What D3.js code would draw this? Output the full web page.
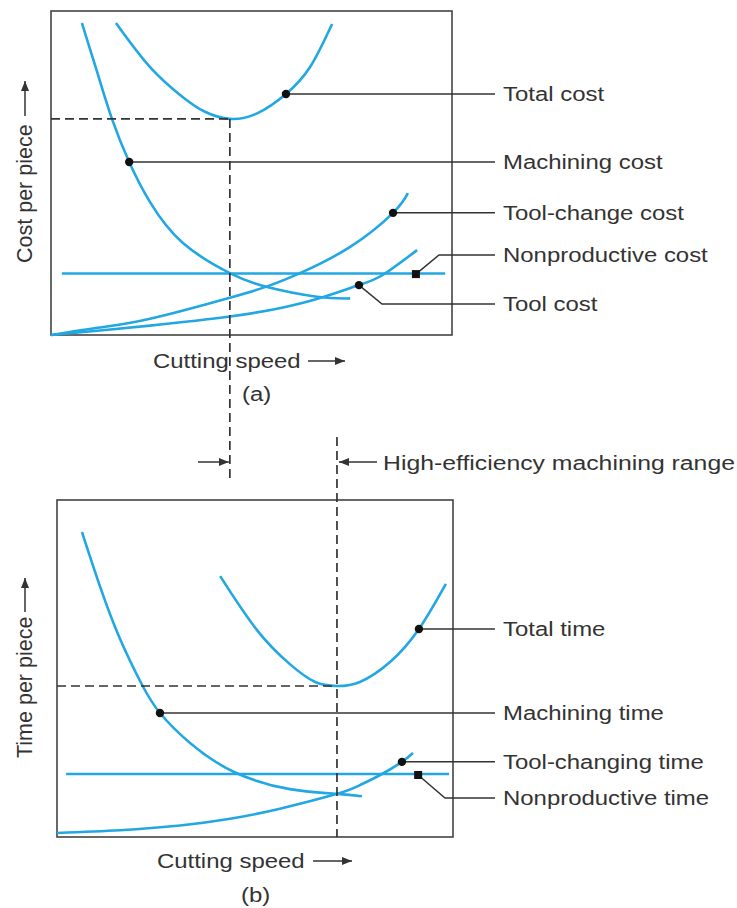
<!DOCTYPE html>
<html>
<head>
<meta charset="utf-8">
<script src="https://cdn.jsdelivr.net/npm/d3@7"></script>
<style>
  body { margin: 0; background: #fff; }
  text { font-family: "Liberation Sans", Arial, Helvetica, sans-serif; fill: #333; }
</style>
</head>
<body>
<div id="viz"></div>
<script>
// values: [cutting speed, cost or time], both 0-100

// (a) cost per piece
var machiningCost   = [[7.7,96.3],[11.5,81.2],[15.2,66.7],[19.5,53.4],[24.7,41.0],[32.9,28.4],[44.6,19.1],[53.9,14.8],[66.3,11.8],[74.6,11.3]];
var totalCost       = [[16.2,96.3],[24.7,82.7],[32.9,73.4],[38.4,68.9],[44.6,66.7],[51.4,68.4],[58.6,74.4],[64.6,82.7],[70.1,96.0]];
var toolChangeCost  = [[0,0],[12.2,2.3],[24.7,5.0],[44.6,11.5],[53.9,15.0],[62.1,19.1],[74.6,27.2],[85.3,37.7],[89.0,43.8]];
var toolCost        = [[0,0],[12.2,1.4],[24.7,2.9],[44.6,5.7],[57.9,8.5],[67.1,11.4],[76.8,15.4],[82.8,18.6],[91.3,26.2]];
var nonprodCost     = [[2.7,19.0],[98.3,19.0]];
var costLabels      = ['Total cost', 'Machining cost', 'Tool-change cost', 'Nonproductive cost', 'Tool cost'];
var costMarkers     = [[58.6,74.4],[19.5,53.4],[85.3,37.7],[91.0,18.8],[76.8,15.4]];
var minCostPoint    = [44.6, 66.7];

// (b) time per piece
var machiningTime   = [[6.3,90.5],[10.9,74.2],[15.9,58.8],[21.5,45.1],[26.0,36.8],[33.6,27.9],[44.7,19.3],[58.8,14.2],[70.7,12.8],[77.0,12.1]];
var totalTime       = [[41.2,77.4],[50.5,61.4],[58.8,51.3],[65.2,46.0],[70.7,44.8],[76.5,46.0],[84.1,51.9],[91.4,61.7],[98.2,75.1]];
var toolChangeTime  = [[0,1.2],[15.9,2.0],[31.1,3.4],[43.7,5.4],[56.3,8.4],[70.7,12.8],[76.5,15.4],[81.6,18.4],[87.1,22.3],[89.9,24.9]];
var nonprodTime     = [[2.3,18.7],[99.0,18.7]];
var timeLabels      = ['Total time', 'Machining time', 'Tool-changing time', 'Nonproductive time'];
var timeMarkers     = [[91.4,61.7],[26.0,36.8],[87.1,22.3],[91.2,18.4]];
var minTimePoint    = [70.7, 44.8];

var blue = '#22a7e3';
var ink = '#333';
var labelX = 503, leaderEnd = 495;

var svg = d3.select('#viz').append('svg')
  .attr('width', 737)
  .attr('height', 908);

// arrow head marker
var defs = svg.append('defs');
defs.append('marker')
  .attr('id', 'head')
  .attr('viewBox', '0 0 10 8')
  .attr('refX', 10).attr('refY', 4)
  .attr('markerWidth', 10).attr('markerHeight', 8)
  .attr('markerUnits', 'userSpaceOnUse')
  .attr('orient', 'auto')
  .append('path').attr('d', 'M0,0L10,4L0,8Z').attr('fill', ink);

function addText(str, x, y, sx) {
  return svg.append('text')
    .attr('transform', 'translate(' + x + ',' + y + ') scale(' + (sx || 1.14) + ',1)')
    .attr('font-size', 21)
    .text(str);
}

function arrow(x1, y1, x2, y2) {
  svg.append('line')
    .attr('x1', x1).attr('y1', y1).attr('x2', x2).attr('y2', y2)
    .attr('stroke', ink).attr('stroke-width', 1.5)
    .attr('marker-end', 'url(#head)');
}

function dashed(x1, y1, x2, y2) {
  svg.append('line')
    .attr('x1', x1).attr('y1', y1).attr('x2', x2).attr('y2', y2)
    .attr('stroke', '#333').attr('stroke-width', 1.7).attr('stroke-dasharray', '9,5');
}

function drawPanel(x, y, curves, markers, labels, elbows, minPt, yLabel) {
  var g = svg.append('g');
  var line = d3.line()
    .x(function(d) { return x(d[0]); })
    .y(function(d) { return y(d[1]); })
    .curve(d3.curveNatural);

  // frame
  g.append('rect')
    .attr('x', x(0)).attr('y', y(100))
    .attr('width', x(100) - x(0)).attr('height', y(0) - y(100))
    .attr('fill', 'none').attr('stroke', '#444').attr('stroke-width', 1.6);

  // leader lines and labels
  markers.forEach(function(m, i) {
    var mx = x(m[0]), my = y(m[1]);
    var e = elbows[i];
    var pts = e ? [[mx, my], [e[0], e[1]], [leaderEnd, e[1]]] : [[mx, my], [leaderEnd, my]];
    g.append('path')
      .attr('d', d3.line()(pts))
      .attr('fill', 'none').attr('stroke', ink).attr('stroke-width', 1.5);
    var ty = e ? e[1] : my;
    addText(labels[i], labelX, ty + 7);
  });

  // dashed optimum line (horizontal part)
  dashed(x(0), y(minPt[1]), x(minPt[0]), y(minPt[1]));

  // curves
  g.selectAll('.curve')
    .data(curves)
    .enter()
    .append('path')
    .attr('class', 'curve')
    .attr('d', line)
    .attr('fill', 'none')
    .attr('stroke', blue)
    .attr('stroke-width', 2.6);

  // markers: circles, except nonproductive square
  markers.forEach(function(m, i) {
    var mx = x(m[0]), my = y(m[1]);
    if (labels[i].indexOf('Nonproductive') === 0) {
      g.append('rect').attr('x', mx - 4).attr('y', my - 4).attr('width', 8).attr('height', 8).attr('fill', '#111');
    } else {
      g.append('circle').attr('cx', mx).attr('cy', my).attr('r', 4.2).attr('fill', '#111');
    }
  });

  // y axis label, rotated
  svg.append('text')
    .attr('transform', 'translate(32,' + yLabel[1] + ') rotate(-90)')
    .attr('font-size', 21.5)
    .text(yLabel[0]);
  return g;
}

// (a)
var xA = d3.scaleLinear().domain([0, 100]).range([51, 452]);
var yA = d3.scaleLinear().domain([0, 100]).range([335, 11]);
drawPanel(xA, yA,
  [machiningCost, totalCost, toolChangeCost, toolCost, nonprodCost],
  costMarkers, costLabels,
  [null, null, null, [439, 255], [382, 304]],
  minCostPoint, ['Cost per piece', 263]);
arrow(25, 116, 25, 81);

// (b)
var xB = d3.scaleLinear().domain([0, 100]).range([57, 453]);
var yB = d3.scaleLinear().domain([0, 100]).range([837, 500]);
drawPanel(xB, yB,
  [machiningTime, totalTime, toolChangeTime, nonprodTime],
  timeMarkers, timeLabels,
  [null, null, null, [445, 798]],
  minTimePoint, ['Time per piece', 758]);
arrow(25, 612, 25, 578);

// vertical dashed lines linking the two optima
dashed(xA(minCostPoint[0]), yA(minCostPoint[1]), xA(minCostPoint[0]), 483);
dashed(xB(minTimePoint[0]), 437, xB(minTimePoint[0]), yB(0));

// x axis labels
addText('Cutting speed', 153, 368);
arrow(308, 361, 345, 361);
addText('(a)', 242, 401);
addText('Cutting speed', 157, 868);
arrow(313, 861, 352, 861);
addText('(b)', 241, 902);

// high-efficiency range
arrow(198, 462, xA(minCostPoint[0]) - 1, 462);
arrow(377, 462, xB(minTimePoint[0]) + 2, 462);
addText('High-efficiency machining range', 383, 470, 1.18);
</script>
</body>
</html>
